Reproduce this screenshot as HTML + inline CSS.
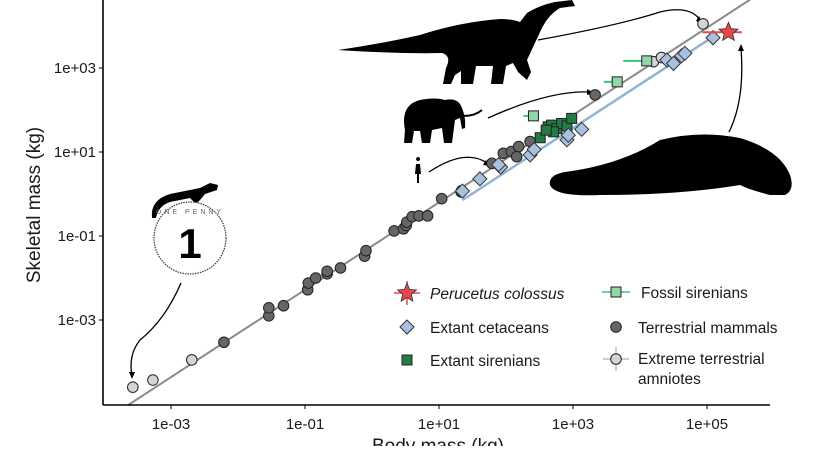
<!DOCTYPE html>
<html><head><meta charset="utf-8"><style>
body{margin:0;background:#fff;}
svg text{font-family:"Liberation Sans",sans-serif;}
</style></head><body>
<svg id="chart" width="825" height="446" viewBox="0 0 825 446" xmlns="http://www.w3.org/2000/svg">
<g id="sil" fill="#000">
<path d="M338,50 Q380,44 420,35 Q460,22 500,19 Q512,19 520,22 L527,13 Q540,5 555,2 L572,0 L575,6 L560,8 Q548,15 541,30 Q534,45 527,60 L531,72 L527,80 L518,72 L513,63 L506,66 L503,84 L491,84 L493,66 L476,66 L473,84 L461,84 L461,71 L455,75 L451,84 L443,84 L446,68 Q452,56 442,53 Q400,54 338,50Z"/>
<path d="M405,130 Q400,105 420,100 Q435,97 445,100 Q458,97 462,108 Q466,118 465,128 L462,129 L460,118 L455,120 L452,143 L444,143 L442,128 L432,130 L430,143 L422,143 L420,131 L414,131 L412,143 L404,143Z"/>
<path d="M458,115 Q472,118 482,110" stroke="#000" stroke-width="2" fill="none"/>
<path d="M418,161 a2,2 0 1,1 0.1,0 M416,164 L420,164 L421,174 L419,174 L419,183 L417,183 L417,174 L415,174Z"/>
<path d="M550,185 Q548,175 565,172 Q620,165 660,140 Q700,130 740,138 Q780,150 790,175 Q795,190 785,195 L770,195 Q750,190 740,185 Q680,195 600,195 Q555,197 550,185Z"/>
<path d="M152,218 Q150,200 170,194 L200,188 L210,183 L218,185 L217,190 L205,194 L200,200 L196,204 L190,198 L170,202 Q158,206 156,218Z"/>
<circle cx="190" cy="238" r="36" fill="#fff" stroke="#444" stroke-width="1.3" stroke-dasharray="1.5,1"/>
<text x="190" y="258" font-size="42" font-weight="bold" text-anchor="middle" font-family="Liberation Serif,serif">1</text>
<text x="190" y="214" font-size="7" text-anchor="middle" fill="#666" font-family="Liberation Serif,serif" letter-spacing="3">ONE PENNY</text>
</g>
<g fill="none" stroke="#000" stroke-width="1.3">
<path d="M181,283 Q165,320 140,340 Q128,355 132,376"/>
<path d="M538,40 Q620,25 660,12 Q690,5 700,20"/>
<path d="M488,118 Q550,90 590,92"/>
<path d="M429,172 Q465,148 487,163"/>
<path d="M729,132 Q745,100 741,48"/>
</g>
<g fill="#000">
<path d="M132,379 l-3,-7 l6,0Z"/><path d="M703,24 l-7,-3 l3,-5Z"/><path d="M594,93 l-7,-4 l0,6Z"/><path d="M490,166 l-7,-1 l3,-5Z"/><path d="M741,44 l-3,7 l6,0Z"/>
</g>
<g id="plot"></g>
<g id="axes"></g>
<g id="legend"></g>
</svg>
<script>
const NS='http://www.w3.org/2000/svg';
// log10 values
const extremeX=[-3.57,-3.27,-2.69,4.20,4.32,4.94];
const extremeY=[-4.60,-4.43,-3.95,3.15,3.25,4.05];
const mammalX=[-2.21,-1.54,-1.54,-1.32,-0.96,-0.95,-0.84,-0.67,-0.67,-0.47,-0.11,-0.09,0.33,0.47,0.51,0.52,0.60,0.70,0.83,1.04,1.33,1.34,1.79,1.96,2.08,2.16,2.19,2.36,3.33];
const mammalY=[-3.53,-2.90,-2.71,-2.66,-2.28,-2.12,-2.00,-1.90,-1.84,-1.76,-1.48,-1.35,-0.88,-0.83,-0.75,-0.67,-0.54,-0.52,-0.52,-0.11,0.05,0.08,0.73,0.97,1.01,0.89,1.13,1.25,2.36];
const cetX=[1.35,1.61,1.92,1.89,2.36,2.42,2.91,2.93,3.13,4.40,4.50,4.62,4.67,5.09];
const cetY=[0.07,0.36,0.64,0.70,0.93,1.06,1.29,1.40,1.54,3.19,3.11,3.29,3.35,3.72];
const sirX=[2.51,2.63,2.68,2.76,2.83,2.91,2.98,2.71,2.60];
const sirY=[1.34,1.60,1.64,1.56,1.68,1.62,1.80,1.48,1.52];
const fosX=[2.41,3.66,4.10];
const fosY=[1.86,2.67,3.17];
const fosLo=[2.26,3.46,3.75];
const peruX=[5.32], peruY=[3.85], peruLo=[4.93], peruHi=[5.52];
const xTicks=[-3,-1,1,3,5], xTickLabels=['1e-03','1e-01','1e+01','1e+03','1e+05'];
const yTicks=[-3,-1,1,3], yTickLabels=['1e-03','1e-01','1e+01','1e+03'];
const greyFit=[-1.24,1.04], blueFit=[-1.55,1.04], blueRange=[1.35,5.15];

const X0=103,X1=770,YB=405;
const sx=v=>171+(v+3)*67, sy=v=>320-(v+3)*42;
function mk(t,a,p){const e=document.createElementNS(NS,t);for(const k in a)e.setAttribute(k,a[k]);p.appendChild(e);return e;}
const plot=document.getElementById('plot'),axes=document.getElementById('axes'),leg=document.getElementById('legend');
const cp=mk('clipPath',{id:'cp'},plot);
mk('rect',{x:X0,y:0,width:X1-X0,height:YB},cp);
const g=mk('g',{'clip-path':'url(#cp)'},plot);
let xa=-4.5,xb=6;
let l=mk('line',{x1:sx(xa),y1:sy(greyFit[0]+greyFit[1]*xa),x2:sx(xb),y2:sy(greyFit[0]+greyFit[1]*xb),stroke:'#8a8a8a','stroke-width':2},g);


l=mk('line',{x1:sx(blueRange[0]),y1:sy(blueFit[0]+blueFit[1]*blueRange[0]),x2:sx(blueRange[1]),y2:sy(blueFit[0]+blueFit[1]*blueRange[1]),stroke:'#8fb3d3','stroke-width':2.5},g);


function circle(p,x,y,fill,name){const c=mk('circle',{cx:x,cy:y,r:5.3,fill:fill,stroke:'#222','stroke-width':1},p);

return c;}
function diamond(p,x,y,name){const d=mk('path',{d:`M${x},${y-7}L${x+7},${y}L${x},${y+7}L${x-7},${y}Z`,fill:'#a9c0e0',stroke:'#333','stroke-width':1},p);

return d;}
function square(p,x,y,fill,name){const s=mk('rect',{x:x-5,y:y-5,width:10,height:10,fill:fill,stroke:'#222','stroke-width':1},p);

return s;}
function star(p,x,y,name){let d='';for(let i=0;i<10;i++){const r=i%2?4.5:10,a=-Math.PI/2+i*Math.PI/5;d+=(i?'L':'M')+(x+r*Math.cos(a)).toFixed(1)+','+(y+r*Math.sin(a)).toFixed(1);}
const s=mk('path',{d:d+'Z',fill:'#e8474c',stroke:'#333','stroke-width':0.8},p);

return s;}
mammalX.forEach((v,i)=>circle(g,sx(v),sy(mammalY[i]),'#666','terrestrial-mammal-point'));
extremeX.forEach((v,i)=>circle(g,sx(v),sy(extremeY[i]),'#d4d4d4','extreme-terrestrial-point'));
sirX.forEach((v,i)=>square(g,sx(v),sy(sirY[i]),'#237a45','extant-sirenian-point'));
fosX.forEach((v,i)=>{const e=mk('line',{x1:sx(fosLo[i]),x2:sx(v),y1:sy(fosY[i]),y2:sy(fosY[i]),stroke:'#3fbf80','stroke-width':2},g);


square(g,sx(v),sy(fosY[i]),'#8fd6a8','fossil-sirenian-point');});
cetX.forEach((v,i)=>diamond(g,sx(v),sy(cetY[i]),'extant-cetacean-point'));
peruX.forEach((v,i)=>{const e=mk('line',{x1:sx(peruLo[i]),x2:sx(peruHi[i]),y1:sy(peruY[i]),y2:sy(peruY[i]),stroke:'#e8474c','stroke-width':2},g);


star(g,sx(v),sy(peruY[i]),'perucetus-point');});
// axes
l=mk('line',{x1:X0,y1:0,x2:X0,y2:YB,stroke:'#000','stroke-width':1.6},axes);


l=mk('line',{x1:X0,y1:YB,x2:X1,y2:YB,stroke:'#000','stroke-width':1.6},axes);


xTicks.forEach((v,i)=>{mk('line',{x1:sx(v),x2:sx(v),y1:YB,y2:YB+4,stroke:'#000'},axes);
const t=mk('text',{x:sx(v),y:YB+24,'font-size':15,'text-anchor':'middle',fill:'#1a1a1a'},axes);t.textContent=xTickLabels[i];

});
yTicks.forEach((v,i)=>{mk('line',{x1:X0-4,x2:X0,y1:sy(v),y2:sy(v),stroke:'#000'},axes);
const t=mk('text',{x:X0-7,y:sy(v)+5,'font-size':15,'text-anchor':'end',fill:'#1a1a1a'},axes);t.textContent=yTickLabels[i];

});
let t=mk('text',{x:438,y:452,'font-size':19,'text-anchor':'middle',fill:'#1a1a1a'},axes);t.textContent='Body mass (kg)';


t=mk('text',{x:0,y:0,'font-size':19,'text-anchor':'middle',fill:'#1a1a1a',transform:'translate(40,205) rotate(-90)'},axes);t.textContent='Skeletal mass (kg)';


// legend
function lt(x,y,s,it){const e=mk('text',{x:x,y:y,'font-size':15.5,fill:'#1a1a1a'},leg);if(it)e.setAttribute('font-style','italic');e.textContent=s;

}
mk('line',{x1:394,x2:420,y1:293,y2:293,stroke:'#e8474c','stroke-width':1.5},leg);
mk('line',{x1:407,x2:407,y1:281,y2:305,stroke:'#e8474c','stroke-width':1.5},leg);
star(leg,407,293,'legend-perucetus-key');lt(430,299,'Perucetus colossus',true);
diamond(leg,407,327,'legend-cetacean-key');lt(430,333,'Extant cetaceans');
square(leg,407,360,'#237a45','legend-sirenian-key');lt(430,366,'Extant sirenians');
mk('line',{x1:602,x2:630,y1:292,y2:292,stroke:'#3fbf80','stroke-width':1.5},leg);
square(leg,616,292,'#8fd6a8','legend-fossil-key');lt(641,298,'Fossil sirenians');
circle(leg,616,327,'#666','legend-mammal-key');lt(638,333,'Terrestrial mammals');
mk('line',{x1:603,x2:629,y1:359,y2:359,stroke:'#bbb','stroke-width':1.5},leg);
mk('line',{x1:616,x2:616,y1:347,y2:371,stroke:'#bbb','stroke-width':1.5},leg);
circle(leg,616,359,'#d4d4d4','legend-extreme-key');lt(638,364,'Extreme terrestrial');lt(638,384,'amniotes');
</script>
</body></html>
